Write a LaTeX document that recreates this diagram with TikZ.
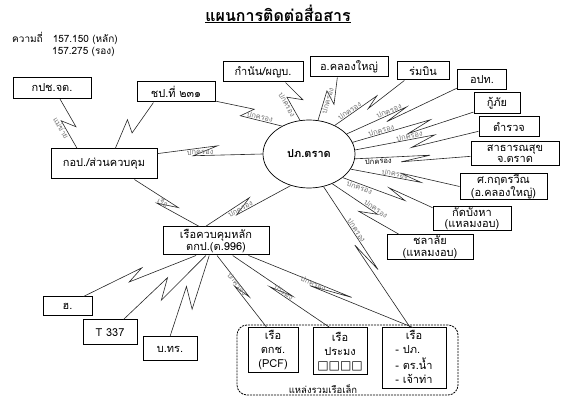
\documentclass[tikz,border=0pt]{standalone}
\usepackage{fontspec}
\setmainfont{Loma}[Script=Thai]
\newfontfamily\symfont{DejaVu Sans}
\usetikzlibrary{calc,shapes.geometric}
\tikzstyle{unitBox} = [shape=rectangle, draw=black, text=black, line width=1pt,
	align=center, fill=white, inner sep=0.5pt, font=\fontsize{11}{11.5}\selectfont]
\tikzstyle{tallBox} = [unitBox, font=\fontsize{11}{14}\selectfont]
\tikzstyle{hubNode} = [shape=ellipse, draw=black, line width=0.7pt, fill=white,
	minimum width=92pt, minimum height=68pt, inner sep=0pt,
	font=\bfseries\fontsize{11}{13}\selectfont]
\tikzstyle{linkLabel} = [sloped, above, pos=0.4, inner sep=0.5pt, text=black!55,
	font=\fontsize{7.5}{8}\selectfont]

\begin{document}
\begin{tikzpicture}[x=1pt, y=-1pt,
	link/.style = {line width=0.6pt, draw=black!85},
	bolt/.style n args = {4}{to path={
		-- ($(\tikztostart)!#1!(\tikztotarget)!#2!90:(\tikztotarget)$)
		-- ($(\tikztostart)!#3!(\tikztotarget)!#4!90:(\tikztotarget)$)
		-- (\tikztotarget) \tikztonodes}}
  ]
  \useasboundingbox (0,0) rectangle (563,398);
  % heading
  \node[font=\bfseries\fontsize{16}{18}\selectfont] (title) at (278,14) {\underline{แผนการติดต่อสื่อสาร}};
  \node[anchor=west, inner sep=0pt, font=\fontsize{10}{11}\selectfont] (freqA) at (12,38) {ความถี่\quad 157.150 (หลัก)};
  \node[anchor=west, inner sep=0pt, font=\fontsize{10}{11}\selectfont] (freqB) at (52,52) {157.275 (รอง)};
  % small boat group
  \node[draw, line width=0.8pt, dash pattern=on 2pt off 1pt, rounded corners=10pt,
	minimum width=221pt, minimum height=70pt] (fleet) at (347.5,360) {};
  \node[font=\fontsize{9.5}{10}\selectfont] (fleetLabel) at (323,389) {แหล่งรวมเรือเล็ก};
  % centre
  \node[hubNode] (ppt) at (309,154) {ปภ.ตราด};
  % units
  \node[unitBox, minimum width=78pt, minimum height=21pt] (kpch) at (52,88) {กปช.จต.};
  \node[unitBox, minimum width=78pt, minimum height=20pt] (chp) at (176,92) {ชป.ที่ ๒๓๑};
  \node[unitBox, minimum width=80pt, minimum height=20pt] (kamnan) at (263,72) {กำนัน/ผญบ.};
  \node[unitBox, minimum width=78pt, minimum height=20pt] (klongyai) at (349,67) {อ.คลองใหญ่};
  \node[unitBox, minimum width=52pt, minimum height=18pt] (rombin) at (423,71) {ร่มบิน};
  \node[unitBox, minimum width=49pt, minimum height=20pt] (opt) at (482,80) {อปท.};
  \node[unitBox, minimum width=46pt, minimum height=21pt] (kuphai) at (497,103.5) {กู้ภัย};
  \node[unitBox, minimum width=60pt, minimum height=20pt] (police) at (509,127) {ตำรวจ};
  \node[unitBox, minimum width=88pt, minimum height=24pt] (health) at (515,154) {สาธารณสุข\\จ.ตราด};
  \node[unitBox, minimum width=87pt, minimum height=25pt] (kritt) at (503.5,186.5) {ศ.กฤตรวีณ\\(อ.คลองใหญ่)};
  \node[unitBox, minimum width=78pt, minimum height=24pt] (bangha) at (472,219) {กัดบังหา\\(แหลมงอบ)};
  \node[unitBox, minimum width=86pt, minimum height=25pt] (chalalai) at (430,247.5) {ชลาลัย\\(แหลมงอบ)};
  \node[unitBox, minimum width=106pt, minimum height=30pt] (kop) at (104,164) {กอป./ส่วนควบคุม};
  \node[unitBox, minimum width=106pt, minimum height=28pt] (ship) at (216,241) {เรือควบคุมหลัก\\ตกป.(ต.996)};
  \node[unitBox, minimum width=49pt, minimum height=19pt] (heli) at (67.5,306.5) {ฮ.};
  \node[unitBox, minimum width=54pt, minimum height=25pt] (t337) at (110,332.5) {T 337};
  \node[unitBox, minimum width=54pt, minimum height=24pt] (bthr) at (170,349) {บ.ทร.};
  \node[tallBox, minimum width=50pt, minimum height=45pt] (pcf) at (273,350.5) {เรือ\\ตกช.\\(PCF)};
  \node[tallBox, minimum width=54pt, minimum height=47pt] (fishing) at (340,351.5)
	{เรือ\\ประมง\\{\symfont\bfseries\fontsize{12}{12}\selectfont □□□□}};
  \node[tallBox, minimum width=64pt, minimum height=61pt] (boat3) at (414,358.5)
	{\begin{tabular}{@{}l@{}}\multicolumn{1}{@{}c@{}}{เรือ}\\- ปภ.\\- ตร.น้ำ\\- เจ้าท่า\end{tabular}};
  % radio links
  \draw[link] (kpch.-54) to[bolt={0.6}{6pt}{0.4}{-6pt}] node[linkLabel, below, pos=0.2] {แม่ข่าย} (kop.150);
  \draw[link] (chp.205) to[bolt={0.62}{3pt}{0.5}{-9pt}] (kop.54);
  \draw[link] (chp.-13) to[bolt={0.55}{6pt}{0.4}{-5pt}] node[linkLabel, pos=0.45] {ปกครอง} (ppt.134);
  \draw[link] (kamnan.-25) to[bolt={0.55}{10pt}{0.35}{-4pt}] node[linkLabel, below, pos=0.25] {ปกครอง} (ppt.105);
  \draw[link] (klongyai.222) to[bolt={0.55}{8pt}{0.35}{-4pt}] node[linkLabel, below, pos=0.3] {ปกครอง} (ppt.75);
  \draw[link] (rombin.207) to[bolt={0.55}{4pt}{0.38}{-2pt}] node[linkLabel, pos=0.6] {ปกครอง} (ppt.48);
  \draw[link] (opt.198) to[bolt={0.65}{4pt}{0.45}{-2pt}] node[linkLabel, pos=0.27] {ปกครอง} (ppt.28);
  \draw[link] (kuphai.200) to[bolt={0.55}{5pt}{0.35}{-3pt}] node[linkLabel, pos=0.62] {ปกครอง} (ppt.15);
  \draw[link] (police.188) to[bolt={0.55}{6pt}{0.35}{-3pt}] node[linkLabel, pos=0.31] {ปกครอง} (ppt.5);
  \draw[link] (health.183) to[bolt={0.6}{4pt}{0.35}{-2pt}] node[linkLabel, below, pos=0.69, text=black] {ปกครอง} (ppt.-6);
  \draw[link] (kritt.180) to[bolt={0.55}{-4pt}{0.35}{2pt}] node[linkLabel, pos=0.38] {ปกครอง} (ppt.-20);
  \draw[link] (bangha.164) to[bolt={0.5}{-5pt}{0.3}{2pt}] node[linkLabel, below, pos=0.71] {ปกครอง} (ppt.-35);
  \draw[link] (chalalai.157) to[bolt={0.55}{6pt}{0.35}{-3pt}] node[linkLabel, pos=0.08] {ปกครอง} (ppt.-52);
  \draw[link] (boat3.97) to[bolt={0.6}{4pt}{0.4}{-3pt}] node[linkLabel, pos=0.45] {ปกครอง} (ppt.-66);
  \draw[link] (kop.11) to[bolt={0.57}{8pt}{0.34}{-2pt}] node[linkLabel, pos=0.1] {ปกครอง} (ppt.180);
  \draw[link] (kop.-27) to[bolt={0.65}{3pt}{0.4}{-6pt}] node[linkLabel, pos=0.1] {เรือ} (ship.139);
  \draw[link] (ship.126) to[bolt={0.55}{7pt}{0.35}{-3pt}] node[linkLabel, pos=0.1] {ปกครอง} (ppt.240);
  \draw[link] (ship.216) to[bolt={0.6}{2pt}{0.46}{-7pt}] (heli.32);
  \draw[link] (ship.235) to[bolt={0.6}{8pt}{0.42}{-6pt}] (t337.44);
  \draw[link] (ship.245) to[bolt={0.62}{8pt}{0.42}{-7pt}] (bthr.90);
  \draw[link] (ship.-86) to[bolt={0.6}{3pt}{0.4}{-3pt}] node[linkLabel, pos=0.0] {ปกครอง} (pcf.105);
  \draw[link] (ship.-41) to[bolt={0.6}{3pt}{0.4}{-3pt}] node[linkLabel, pos=0.2] {ประมง} (fishing.113);
  \draw[link] (ship.-24) to[bolt={0.62}{3pt}{0.38}{-3pt}] node[linkLabel, pos=0.02] {ปกครอง} (boat3.92);
\end{tikzpicture}
\end{document}
